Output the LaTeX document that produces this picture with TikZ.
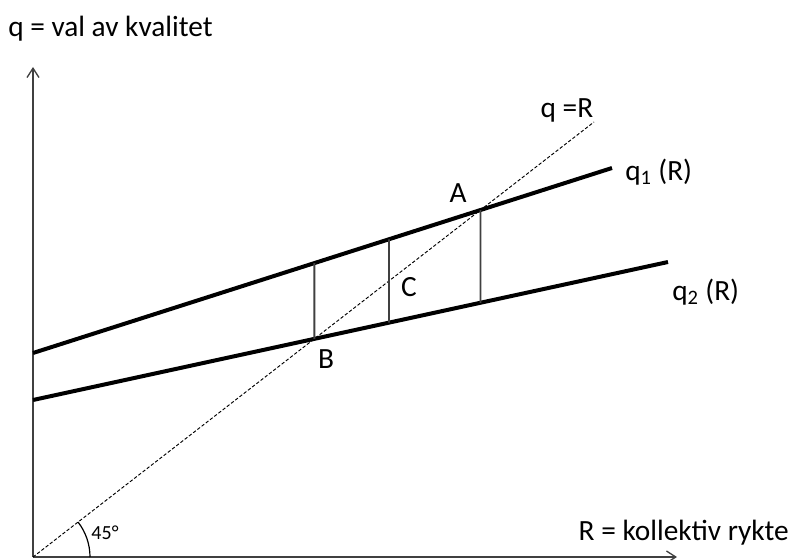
\documentclass[tikz,border=0pt]{standalone}
\usepackage{fontspec}
\setmainfont{Carlito}
\usetikzlibrary{arrows.meta,calc}

\begin{document}
\begin{tikzpicture}[x=0.75pt,y=-0.75pt,
  axis/.style={line width=1.3pt,black!75,-{Straight Barb[length=7pt,width=9pt,line width=1pt]}},
  curve/.style={line width=3pt},
  guide/.style={line width=1.4pt,black!75},
  lbl/.style={font=\fontsize{22}{24}\selectfont,inner sep=0pt}]
  \useasboundingbox (0,0) rectangle (792,560);
  % axes
  \coordinate (O) at (33,557);
  \coordinate (ytop) at (33,67);
  \coordinate (xend) at (677,557);
  \draw[axis] (O) -- (ytop);
  \draw[axis] (O) -- (xend);
  \node[lbl,anchor=west] (ylabel) at (8,29) {q = val av kvalitet};
  \node[lbl,anchor=east] (xlabel) at (789,533) {R = kollektiv rykte};
  % q = R
  \coordinate (dend) at (594,122);
  \draw[dashed,line width=0.7pt,dash pattern=on 2.5pt off 1.5pt] (O) -- (dend);
  \node[lbl] (qr) at (567,110) {q =R};
  % the two curves
  \coordinate (q1s) at (33,353);
  \coordinate (q1e) at (612,168);
  \coordinate (q2s) at (33,400);
  \coordinate (q2e) at (668,262);
  \draw[curve] (q1s) -- (q1e);
  \draw[curve] (q2s) -- (q2e);
  \node[lbl,anchor=west] (qone) at (625,172) {q\textsubscript{1} (R)};
  \node[lbl,anchor=west] (qtwo) at (672,292) {q\textsubscript{2} (R)};
  % equilibria
  \coordinate (A) at (intersection of O--dend and q1s--q1e);
  \coordinate (B) at (intersection of O--dend and q2s--q2e);
  \coordinate (Atop) at (A |- ytop);
  \coordinate (Btop) at (B |- ytop);
  \coordinate (mtop) at (389,0);
  \coordinate (mbot) at (389,560);
  \coordinate (Abot) at (intersection of A--Atop and q2s--q2e);
  \coordinate (Bup) at (intersection of B--Btop and q1s--q1e);
  \coordinate (mup) at (intersection of mtop--mbot and q1s--q1e);
  \coordinate (mdown) at (intersection of mtop--mbot and q2s--q2e);
  \draw[guide] (B) -- (Bup);
  \draw[guide] (mup) -- (mdown);
  \draw[guide] (A) -- (Abot);
  \node[lbl] (Alabel) at (458,193) {A};
  \node[lbl] (Blabel) at (326,359) {B};
  \node[lbl] (Clabel) at (409,287) {C};
  % angle
  \draw[line width=0.9pt] ($(O)+(57,0)$) arc[start angle=0,end angle=-37.8,radius=57];
  \node[font=\fontsize{15}{17}\selectfont,inner sep=0pt] (angle) at (105,533) {45°};
\end{tikzpicture}
\end{document}
